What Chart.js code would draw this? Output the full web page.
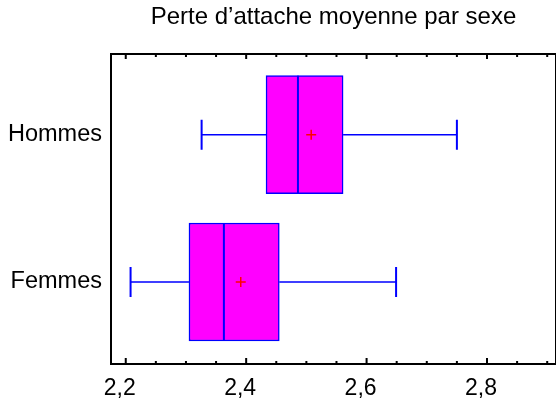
<!DOCTYPE html>
<html>
<head>
<meta charset="utf-8">
<script src="https://cdn.jsdelivr.net/npm/chart.js@4"></script>
<style>
  html, body { margin: 0; padding: 0; background: #fff; overflow: hidden; }
  canvas { display: block; }
</style>
</head>
<body>
<canvas id="boxChart" width="556" height="401"></canvas>
<script>
// one entry per group, Femmes at the bottom, Hommes at the top
const groups = ["Femmes", "Hommes"];
const groupPos = [0, 1];
const whiskerLow = [2.208, 2.326];
const q1 = [2.305, 2.433];
const median = [2.363, 2.486];
const q3 = [2.455, 2.561];
const whiskerHigh = [2.649, 2.750];
const means = [2.391, 2.508];

const majorTicks = [2.2, 2.4, 2.6, 2.8];
const minorTicks = [2.25, 2.3, 2.35, 2.45, 2.5, 2.55, 2.65, 2.7, 2.75, 2.85, 2.9];

const FONT = "'Liberation Sans', Arial, sans-serif";

// whiskers, caps and median line, placed with the chart scales
const boxExtras = {
  id: "boxExtras",
  afterDatasetsDraw(chart) {
    const { ctx, scales: { x, y } } = chart;
    ctx.save();
    ctx.strokeStyle = "#0000ff";
    for (let i = 0; i < groups.length; i++) {
      const cy = y.getPixelForValue(groupPos[i]);
      const xLo = x.getPixelForValue(whiskerLow[i]);
      const xQ1 = x.getPixelForValue(q1[i]);
      const xQ3 = x.getPixelForValue(q3[i]);
      const xHi = x.getPixelForValue(whiskerHigh[i]);
      const xMed = x.getPixelForValue(median[i]);

      ctx.lineWidth = 1.5;
      ctx.beginPath();
      ctx.moveTo(xLo, cy); ctx.lineTo(xQ1, cy);
      ctx.moveTo(xQ3, cy); ctx.lineTo(xHi, cy);
      ctx.stroke();

      ctx.lineWidth = 2;
      ctx.beginPath();
      ctx.moveTo(xLo, cy - 15); ctx.lineTo(xLo, cy + 15);
      ctx.moveTo(xHi, cy - 15); ctx.lineTo(xHi, cy + 15);
      ctx.stroke();

      const box = chart.getDatasetMeta(0).data[i];
      const half = box.height / 2;
      ctx.beginPath();
      ctx.moveTo(xMed, cy - half); ctx.lineTo(xMed, cy + half);
      ctx.stroke();
    }
    ctx.restore();
  }
};

// black frame with inward tick marks on top and bottom
const frame = {
  id: "frame",
  afterDraw(chart) {
    const { ctx, chartArea: a, scales: { x } } = chart;
    ctx.save();
    ctx.strokeStyle = "#000";
    ctx.lineWidth = 2;
    ctx.strokeRect(a.left, a.top, a.right - a.left, a.bottom - a.top);
    ctx.beginPath();
    majorTicks.forEach(v => {
      const px = x.getPixelForValue(v);
      ctx.moveTo(px, a.bottom); ctx.lineTo(px, a.bottom - 6);
      ctx.moveTo(px, a.top); ctx.lineTo(px, a.top + 5);
    });
    minorTicks.forEach(v => {
      const px = x.getPixelForValue(v);
      ctx.moveTo(px, a.bottom); ctx.lineTo(px, a.bottom - 3);
      ctx.moveTo(px, a.top); ctx.lineTo(px, a.top + 3);
    });
    ctx.stroke();
    ctx.restore();
  }
};

new Chart(document.getElementById("boxChart"), {
  data: {
    datasets: [
      {
        type: "bar",
        indexAxis: "y",
        data: groupPos.map((p, i) => ({ x: [q1[i], q3[i]], y: p })),
        backgroundColor: "#ff00ff",
        borderColor: "#0000ff",
        borderWidth: 1.5,
        borderSkipped: false,
        barThickness: 118,
        order: 1
      },
      {
        type: "scatter",
        data: groupPos.map((p, i) => ({ x: means[i], y: p })),
        pointStyle: "cross",
        radius: 5,
        borderColor: "#ff0000",
        borderWidth: 1.5,
        order: 0
      }
    ]
  },
  options: {
    responsive: false,
    animation: false,
    layout: { padding: 0, autoPadding: false },
    plugins: {
      legend: { display: false },
      tooltip: { enabled: false },
      title: {
        display: true,
        fullSize: false,
        text: "Perte d\u2019attache moyenne par sexe",
        color: "#000",
        font: { family: FONT, size: 24, weight: "normal" },
        padding: { top: 3, bottom: 22.2 }
      }
    },
    scales: {
      x: {
        type: "linear",
        position: "bottom",
        offset: false,
        min: 2.1755,
        max: 2.9146,
        grid: { display: false, drawTicks: false, offset: false },
        border: { display: false },
        afterBuildTicks: s => { s.ticks = majorTicks.map(v => ({ value: v })); },
        afterFit: s => {
          s.height = 37;
          s.paddingLeft = 0;
          s.paddingRight = 0;
        },
        ticks: {
          autoSkip: false,
          maxRotation: 0,
          padding: 10.5,
          labelOffset: -6,
          color: "#000",
          font: { family: FONT, size: 23 },
          callback: v => v.toFixed(1).replace(".", ",")
        }
      },
      y: {
        type: "linear",
        position: "left",
        offset: false,
        min: -0.557,
        max: 1.548,
        grid: { display: false, drawTicks: false, offset: false },
        border: { display: false },
        afterBuildTicks: s => { s.ticks = groupPos.map(v => ({ value: v })); },
        afterFit: s => { s.width = 111; },
        ticks: {
          padding: 9,
          color: "#000",
          font: { family: FONT, size: 23.5 },
          callback: v => groups[groupPos.indexOf(v)]
        }
      }
    }
  },
  plugins: [boxExtras, frame]
});
</script>
</body>
</html>
